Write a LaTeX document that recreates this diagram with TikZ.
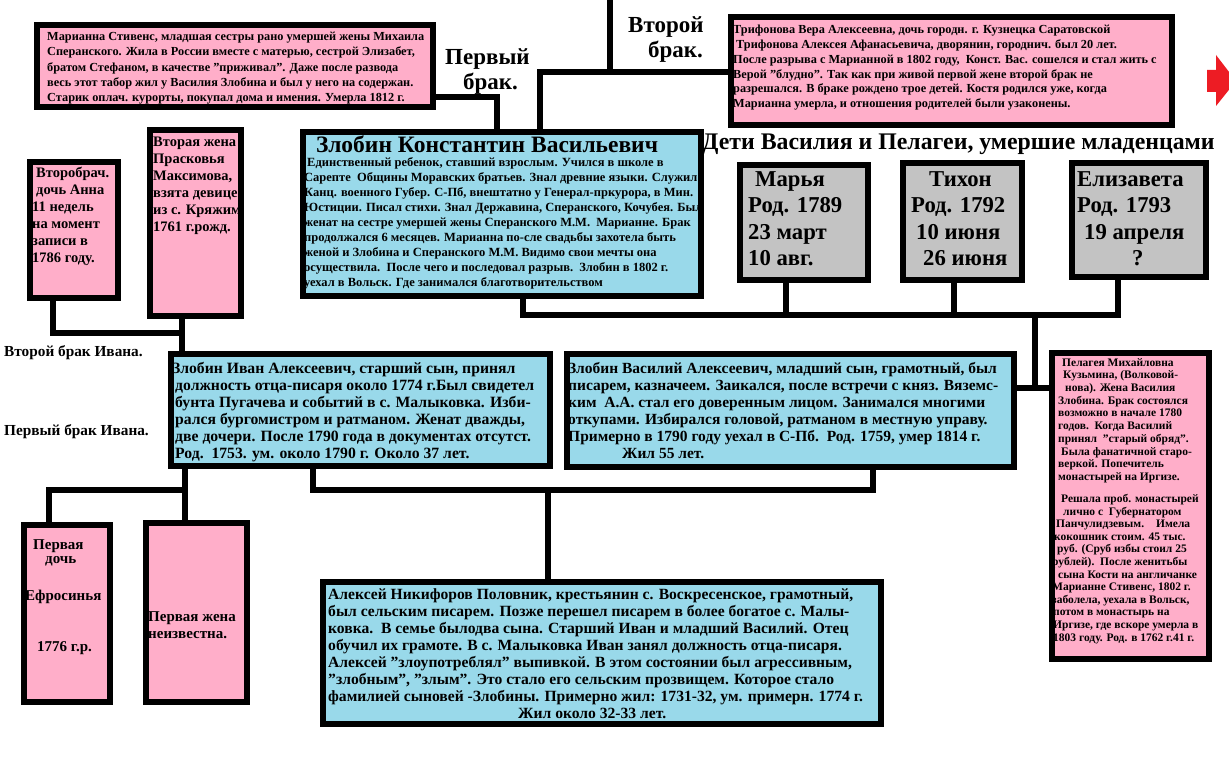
\documentclass[tikz,border=0pt]{standalone}
\usepackage{fontspec}
\setmainfont{Liberation Serif}
\usetikzlibrary{calc}
\definecolor{pinkc}{RGB}{255,174,201}
\definecolor{bluec}{RGB}{153,217,234}
\definecolor{grayc}{RGB}{195,195,195}
\definecolor{redc}{RGB}{237,28,36}
\newcommand{\myfs}[2]{\bfseries\fontsize{#1}{#2}\selectfont}
\tikzset{
  box/.style={draw=black, line width=6pt, inner sep=0pt, anchor=north west},
  pbox/.style={box, fill=pinkc},
  bbox/.style={box, fill=bluec},
  gbox/.style={box, fill=grayc},
  conn/.style={draw=black, line width=6pt},
  txt/.style={anchor=north west, align=left, inner sep=0pt, text=black},
}
\begin{document}
\begin{tikzpicture}[x=1pt,y=-1pt]
\useasboundingbox (0,0) rectangle (1229,767);
\fill[white] (0,0) rectangle (1229,767);

% ---------- boxes ----------
\node[pbox, minimum width=396pt, minimum height=82pt] (marb) at (34,22) {};
\node[pbox, minimum width=441pt, minimum height=108pt] (trib) at (728,14) {};
\node[bbox, minimum width=398pt, minimum height=164pt] (konb) at (300,129) {};
\node[pbox, minimum width=88pt, minimum height=136pt] (vtbb) at (27,159) {};
\node[pbox, minimum width=91pt, minimum height=186pt] (vzhb) at (147,127) {};
\node[bbox, minimum width=379pt, minimum height=112pt] (ivab) at (168,351) {};
\node[bbox, minimum width=447pt, minimum height=113pt] (vasb) at (564,351) {};
\node[pbox, minimum width=157pt, minimum height=306pt] (pelb) at (1049,350) {};
\node[gbox, minimum width=128pt, minimum height=115pt] (maryab) at (737,162) {};
\node[gbox, minimum width=119pt, minimum height=117pt] (tihonb) at (900,160) {};
\node[gbox, minimum width=134pt, minimum height=114pt] (elizb) at (1069,160) {};
\node[bbox, minimum width=558pt, minimum height=142pt] (alb) at (320,579) {};
\node[pbox, minimum width=86pt, minimum height=177pt] (perdb) at (21,522) {};
\node[pbox, minimum width=101pt, minimum height=179pt] (perzhb) at (143,520) {};

% ---------- junction coordinates ----------
\coordinate (j1) at (497,97);
\coordinate (j2) at (540,72);
\coordinate (jtop) at (610,0);
\coordinate (hk) at (523,315);
\coordinate (hend) at (1118,315);
\coordinate (sm) at (786,315);
\coordinate (st) at (954,315);
\coordinate (v1) at (1035,315);
\coordinate (v2) at (1035,388);
\coordinate (a1) at (53,333);
\coordinate (a2) at (182,333);
\coordinate (b1) at (49,490);
\coordinate (b2) at (185,490);
\coordinate (c1) at (313,490);
\coordinate (c2) at (873,490);
\coordinate (c3) at (548,490);

% ---------- connectors ----------
\draw[conn] (marb.east |- j1) -- (j1) -- (j1 |- konb.north);
\draw[conn] (j2 |- konb.north) -- (j2) -- (trib.west |- j2);
\draw[conn] (jtop) -- (jtop |- j2);
\draw[conn] (hk |- konb.south) -- (hk) -- (hend) -- (hend |- elizb.south);
\draw[conn] (sm) -- (sm |- maryab.south);
\draw[conn] (st) -- (st |- tihonb.south);
\draw[conn] (v1) -- (v2);
\draw[conn] (vasb.east |- v2) -- (pelb.west |- v2);
\draw[conn] (a1 |- vtbb.south) -- (a1) -- (a2);
\draw[conn] (a2 |- vzhb.south) -- (a2 |- ivab.north);
\draw[conn] (b1 |- perdb.north) -- (b1) -- (b2);
\draw[conn] (b2 |- ivab.south) -- (b2 |- perzhb.north);
\draw[conn] (c1 |- ivab.south) -- (c1) -- (c2) -- (c2 |- vasb.south);
\draw[conn] (c3) -- (c3 |- alb.north);

% red arrow
\fill[redc] (1207,70) -- (1216,70) -- (1216,55) -- (1236,81) -- (1216,106) -- (1216,92) -- (1207,92) -- cycle;

% ---------- texts ----------
\node[txt, font=\myfs{12.3}{15.2}] (mart) at (47,32) {Марианна Стивенс, младшая сестры рано умершей жены Михаила\\
Сперанского. Жила в России вместе с матерью, сестрой Элизабет,\\
братом Стефаном, в качестве "приживал". Даже после развода\\
весь этот табор жил у Василия Злобина и был у него на содержан.\\
Старик оплач. курорты, покупал дома и имения. Умерла 1812 г.};

\begin{scope}
\clip ([xshift=3pt,yshift=-3pt]trib.north west) rectangle ([xshift=-3pt,yshift=3pt]trib.south east);
\node[txt, font=\myfs{12.3}{14.8}] (trit) at (733,25) {Трифонова Вера Алексеевна, дочь городн. г. Кузнецка Саратовской\\
\hspace*{3pt}Трифонова Алексея Афанасьевича, дворянин, городнич. был 20 лет.\\
После разрыва с Марианной в 1802 году,\ \ Конст. Вас. сошелся и стал жить с\\
Верой "блудно". Так как при живой первой жене второй брак не\\
разрешался. В браке рождено трое детей. Костя родился уже, когда\\
Марианна умерла, и отношения родителей были узаконены.};
\end{scope}

\node[txt, font=\myfs{23}{25}] (pbrak1) at (445,48) {Первый\\\hspace*{18pt}брак.};
\node[txt, font=\myfs{23}{25}] (vbrak) at (628,16) {Второй\\\hspace*{20pt}брак.};

\node[txt, font=\myfs{23.5}{25}] (kont) at (316,135) {Злобин Константин Васильевич};
\begin{scope}
\clip ([xshift=3pt,yshift=-3pt]konb.north west) rectangle ([xshift=-3pt,yshift=3pt]konb.south east);
\node[txt, font=\myfs{12.5}{15}] (konbody) at (304,157) {\hspace*{3pt}Единственный ребенок, ставший взрослым. Учился в школе в\\
Сарепте\ \ Общины Моравских братьев. Знал древние языки. Служил в\\
Канц. военного Губер. С-Пб, внештатно у Генерал-пркурора, в Мин.\\
Юстиции. Писал стихи. Знал Державина, Сперанского, Кочубея. Был\\
женат на сестре умершей жены Сперанского М.М.\ \ Марианне. Брак\\
продолжался 6 месяцев. Марианна по-сле свадьбы захотела быть\\
женой и Злобина и Сперанского М.М. Видимо свои мечты она\\
осуществила.\ \ После чего и последовал разрыв.\ \ Злобин в 1802 г.\\
уехал в Вольск. Где занимался благотворительством};
\end{scope}

\node[txt, font=\myfs{23.8}{26}] (dett) at (702,134) {Дети Василия и Пелагеи, умершие младенцами};

\node[txt, font=\myfs{22.7}{26.5}] (maryat) at (748,171) {\hspace*{7pt}Марья\\Род. 1789\\23 март\\10 авг.};
\node[txt, font=\myfs{22.7}{26.5}] (tihont) at (911,171) {\hspace*{18pt}Тихон\\Род. 1792\\\hspace*{5pt}10 июня\\\hspace*{12pt}26 июня};
\node[txt, font=\myfs{22.7}{26.5}] (elizt) at (1077,171) {Елизавета\\Род. 1793\\\hspace*{7pt}19 апреля\\\hspace*{55pt}?};

\node[txt, font=\myfs{14.5}{17}] (vtbt) at (32,167) {\hspace*{4pt}Второбрач.\\\hspace*{4pt}дочь Анна\\11 недель\\на момент\\записи в\\1786 году.};
\begin{scope}
\clip ([xshift=3pt,yshift=-3pt]vzhb.north west) rectangle ([xshift=-3pt,yshift=3pt]vzhb.south east);
\node[txt, font=\myfs{14.5}{17}] (vzht) at (153,137) {Вторая жена\\Прасковья\\Максимова,\\взята девицею\\из с. Кряжим,\\1761 г.рожд.};
\end{scope}

\node[txt, font=\myfs{15.3}{16}] (lab2) at (4,345) {Второй брак Ивана.};
\node[txt, font=\myfs{15.3}{16}] (lab1) at (4,424) {Первый брак Ивана.};

\node[txt, font=\myfs{15.7}{17}] (ivat) at (172,362) {Злобин Иван Алексеевич, старший сын, принял\\
\hspace*{3pt}должность отца-писаря около 1774 г.Был свидетел\\
\hspace*{3pt}бунта Пугачева и событий в с. Малыковка. Изби-\\
\hspace*{3pt}рался бургомистром и ратманом. Женат дважды,\\
\hspace*{3pt}две дочери. После 1790 года в документах отсутст.\\
\hspace*{3pt}Род.\ \ 1753. ум. около 1790 г. Около 37 лет.};

\node[txt, font=\myfs{15.5}{17}] (vast) at (568,362) {Злобин Василий Алексеевич, младший сын, грамотный, был\\
писарем, казначеем. Заикался, после встречи с княз. Вяземс-\\
ким\ \ А.А. стал его доверенным лицом. Занимался многими\\
откупами. Избирался головой, ратманом в местную управу.\\
Примерно в 1790 году уехал в С-Пб.\ \ Род. 1759, умер 1814 г.\\
\hspace*{54pt}Жил 55 лет.};

\node[txt, font=\myfs{11.5}{12.7}] (pelt1) at (1052,358) {\hspace*{10pt}Пелагея Михайловна\\
\hspace*{11pt}Кузьмина, (Волковой-\\
\hspace*{13pt}нова). Жена Василия\\
\hspace*{6pt}Злобина. Брак состоялся\\
\hspace*{6pt}возможно в начале 1780\\
\hspace*{6pt}годов.\ \ Когда Василий\\
\hspace*{6pt}принял\ \ "старый обряд".\\
\hspace*{9pt}Была фанатичной старо-\\
\hspace*{6pt}веркой. Попечитель\\
\hspace*{6pt}монастырей на Иргизе.};
\node[txt, font=\myfs{11.5}{12.6}] (pelt2) at (1052,494) {\hspace*{9pt}Решала проб. монастырей\\
\hspace*{11pt}лично с\ \ Губернатором\\
\hspace*{4pt}Панчулидзевым.\hspace*{12pt}Имела\\
\hspace*{2pt}кокошник стоим. 45 тыс.\\
\hspace*{5pt}руб. (Сруб избы стоил 25\\
рублей).\ \ После женитьбы\\
\hspace*{6pt}сына Кости на англичанке\\
Марианне Стивенс, 1802 г.\\
заболела, уехала в Вольск,\\
\hspace*{1pt}потом в монастырь на\\
\hspace*{1pt}Иргизе, где вскоре умерла в\\
\hspace*{1pt}1803 году. Род. в 1762 г.41 г.};

\node[txt, font=\myfs{15.6}{17}] (alt) at (328,588) {Алексей Никифоров Половник, крестьянин с. Воскресенское, грамотный,\\
был сельским писарем. Позже перешел писарем в более богатое с. Малы-\\
ковка.\ \ В семье былодва сына. Старший Иван и младший Василий. Отец\\
обучил их грамоте. В с. Малыковка Иван занял должность отца-писаря.\\
Алексей "злоупотреблял" выпивкой. В этом состоянии был агрессивным,\\
"злобным", "злым". Это стало его сельским прозвищем. Которое стало\\
фамилией сыновей -Злобины. Примерно жил: 1731-32, ум. примерн. 1774 г.\\
\hspace*{190pt}Жил около 32-33 лет.};

\node[txt, font=\myfs{15}{17}] (pd1) at (33,539) {Первая};
\node[txt, font=\myfs{15}{17}] (pd2) at (45,556) {дочь};
\node[txt, font=\myfs{15}{17}] (pd3) at (25,590) {Ефросинья};
\node[txt, font=\myfs{15}{17}] (pd4) at (37,641) {1776 г.р.};
\node[txt, font=\myfs{15}{17}] (pzt) at (148,611) {Первая жена\\неизвестна.};
\end{tikzpicture}
\end{document}
